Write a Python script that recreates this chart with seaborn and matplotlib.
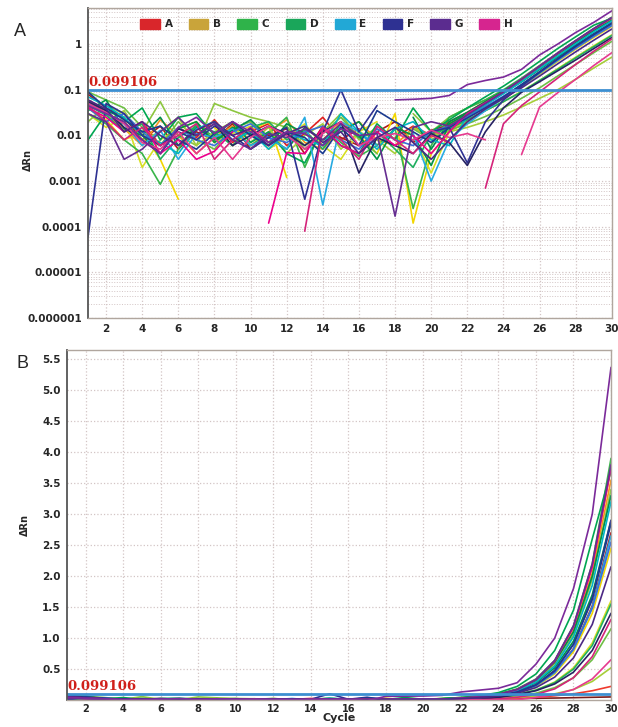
import numpy as np
import pandas as pd
import seaborn as sns
import matplotlib.pyplot as plt
from matplotlib.patches import Patch

# qPCR amplification data, delta Rn per cycle (negative = below baseline, gap on log plot)
cycles = list(range(1, 31))
threshold = 0.099106

a1 = [0.060, 0.035, 0.012, 0.020, 0.006, 0.015, 0.009, 0.022, 0.007, 0.012, 0.018, 0.006, 0.011, 0.025, 0.008,
      0.014, -0.002, 0.009, 0.016, 0.010, 0.020, 0.032, 0.055, 0.095, 0.17, 0.33, 0.63, 1.18, 2.15, 3.75]
a2 = [0.080, 0.040, 0.025, 0.008, 0.016, 0.005, 0.012, 0.008, 0.018, 0.005, 0.010, 0.014, 0.004, 0.016, 0.009,
      0.006, 0.012, 0.020, 0.007, 0.013, 0.017, 0.026, 0.042, 0.070, 0.12, 0.23, 0.44, 0.83, 1.52, 2.70]
b1 = [0.040, 0.022, 0.008, 0.012, 0.003, 0.0004, -0.001, 0.015, 0.006, 0.013, 0.020, 0.0012, -0.002, 0.008, 0.020,
      0.010, 0.004, 0.030, 0.00012, 0.004, 0.012, 0.020, 0.036, 0.065, 0.12, 0.22, 0.42, 0.78, 1.40, 2.45]
b2 = [0.050, 0.030, 0.014, 0.006, 0.022, 0.010, 0.004, 0.009, 0.016, 0.006, 0.012, 0.022, 0.007, 0.005, 0.014,
      0.020, 0.008, 0.006, 0.015, 0.009, 0.018, 0.028, 0.048, 0.085, 0.16, 0.31, 0.60, 1.12, 2.05, 3.55]
b3 = [0.030, 0.015, 0.025, 0.002, 0.008, 0.014, 0.020, 0.007, 0.011, 0.016, 0.005, 0.009, 0.018, 0.006, 0.003,
      0.012, 0.020, -0.001, 0.010, 0.0015, 0.012, 0.022, 0.035, 0.055, 0.092, 0.16, 0.29, 0.52, 0.92, 1.60]
c1 = [0.020, 0.045, 0.030, 0.012, 0.055, 0.010, 0.006, 0.050, 0.035, 0.025, 0.020, 0.015, 0.006, 0.012, 0.030,
      0.008, 0.015, -0.001, 0.030, 0.012, 0.025, 0.040, 0.060, 0.090, 0.15, 0.29, 0.56, 1.05, 1.95, 3.40]
c2 = [0.030, 0.018, 0.008, 0.004, 0.00085, 0.005, 0.018, 0.009, 0.014, 0.006, 0.011, 0.025, 0.002, 0.016, 0.007,
      0.0035, 0.006, 0.014, 0.00025, 0.006, 0.025, 0.040, 0.060, 0.10, 0.18, 0.34, 0.64, 1.20, 2.20, 3.90]
c3 = [0.090, 0.060, 0.040, 0.015, 0.006, 0.020, 0.008, 0.005, 0.014, 0.020, 0.007, 0.016, 0.005, 0.011, 0.025,
      0.009, 0.004, -0.001, 0.014, 0.008, 0.013, 0.018, 0.026, 0.040, 0.065, 0.11, 0.20, 0.36, 0.65, 1.15]
c4 = [0.040, 0.020, 0.035, 0.008, 0.012, 0.025, 0.006, 0.012, 0.020, 0.007, 0.015, 0.004, 0.010, 0.018, 0.005,
      0.012, 0.008, 0.004, 0.015, 0.010, 0.012, 0.015, 0.020, 0.028, 0.042, 0.065, 0.10, 0.17, 0.30, 0.52]
d1 = [0.008, 0.030, 0.020, 0.040, 0.008, 0.025, 0.030, 0.010, 0.020, 0.007, 0.012, 0.004, 0.0025, 0.014, 0.006,
      0.004, 0.018, 0.008, 0.040, 0.012, 0.022, 0.040, 0.070, 0.12, 0.22, 0.42, 0.80, 1.45, 2.60, 3.70]
d2 = [0.050, 0.035, 0.024, 0.010, 0.025, 0.006, 0.015, 0.008, 0.013, 0.022, 0.009, 0.005, 0.015, 0.008, 0.012,
      0.020, 0.006, -0.002, 0.025, 0.005, 0.020, 0.032, 0.055, 0.095, 0.17, 0.32, 0.61, 1.10, 2.00, 3.30]
d3 = [0.045, 0.028, 0.012, 0.018, 0.003, 0.009, 0.016, 0.012, 0.006, 0.015, 0.020, 0.008, 0.013, 0.005, 0.018,
      0.009, 0.012, 0.005, 0.002, 0.011, 0.014, 0.022, 0.035, 0.055, 0.090, 0.16, 0.28, 0.50, 0.88, 1.55]
d4 = [0.035, 0.060, 0.014, 0.010, 0.004, 0.014, 0.020, 0.007, 0.015, 0.011, 0.006, 0.018, 0.011, 0.006, 0.015,
      0.010, 0.003, 0.015, 0.010, 0.0022, 0.018, 0.030, 0.050, 0.085, 0.15, 0.28, 0.52, 0.95, 1.70, 2.90]
e1 = [0.050, 0.030, 0.018, 0.006, 0.013, 0.003, 0.011, 0.009, 0.014, 0.006, 0.009, 0.005, 0.025, 0.0003, 0.020,
      0.012, 0.006, -0.001, 0.011, 0.0010, 0.008, 0.018, 0.035, 0.065, 0.12, 0.23, 0.44, 0.82, 1.50, 2.65]
e2 = [0.070, 0.045, 0.025, 0.010, 0.007, 0.004, 0.014, 0.020, 0.008, 0.012, 0.005, 0.012, 0.008, 0.006, 0.030,
      0.012, 0.005, 0.014, 0.020, 0.008, 0.006, 0.026, 0.046, 0.082, 0.15, 0.29, 0.55, 1.02, 1.85, 3.20]
e3 = [0.040, 0.020, 0.030, 0.012, 0.006, 0.015, 0.008, 0.006, 0.012, 0.018, 0.009, 0.007, 0.012, 0.016, 0.008,
      0.005, 0.014, 0.008, 0.006, 0.012, 0.016, 0.025, 0.042, 0.072, 0.13, 0.24, 0.45, 0.82, 1.48, 2.55]
f1 = [0.00006, 0.050, 0.030, 0.010, 0.006, 0.012, 0.008, 0.016, 0.010, 0.005, 0.009, 0.015, 0.0004, 0.012, 0.10,
      0.012, 0.045, -0.002, 0.008, 0.012, 0.015, 0.0025, 0.020, 0.060, 0.12, 0.24, 0.47, 0.90, 1.65, 2.90]
f2 = [0.090, 0.040, 0.022, 0.012, 0.016, 0.008, 0.005, 0.011, 0.020, 0.010, 0.006, 0.012, 0.009, 0.004, 0.015,
      0.006, 0.035, 0.020, 0.012, 0.007, 0.015, 0.024, 0.040, 0.070, 0.13, 0.25, 0.48, 0.90, 1.62, 2.85]
f3 = [0.055, 0.035, 0.015, 0.008, 0.004, 0.014, 0.010, 0.018, 0.006, 0.010, 0.016, 0.011, 0.006, 0.012, 0.020,
      0.0015, 0.009, 0.006, 0.004, 0.011, 0.007, 0.0022, 0.012, 0.040, 0.088, 0.15, 0.26, 0.45, 0.80, 1.40]
g1 = [0.045, 0.030, 0.020, 0.008, 0.004, 0.015, 0.025, 0.011, 0.020, 0.012, 0.007, 0.012, 0.011, 0.006, 0.014,
      0.010, -0.010, 0.060, 0.062, 0.065, 0.075, 0.13, 0.16, 0.19, 0.28, 0.58, 1.00, 1.80, 3.00, 5.37]
g2 = [0.030, 0.020, 0.003, 0.005, 0.012, 0.025, 0.010, 0.018, 0.008, 0.005, 0.011, 0.009, 0.014, 0.008, 0.018,
      0.010, 0.011, 0.00017, 0.015, 0.020, 0.016, 0.028, 0.050, 0.090, 0.17, 0.33, 0.64, 1.20, 2.20, 3.80]
g3 = [0.060, 0.038, 0.012, 0.020, 0.010, 0.006, 0.013, 0.020, 0.010, 0.014, 0.006, 0.011, 0.016, 0.007, 0.012,
      0.004, 0.009, 0.015, 0.007, 0.003, 0.008, 0.020, 0.038, 0.065, 0.11, 0.20, 0.37, 0.68, 1.22, 2.15]
h1 = [0.040, 0.025, 0.012, 0.020, 0.004, 0.008, 0.003, 0.0045, 0.012, -0.002, 0.00012, 0.0042, 0.0040, 0.015, 0.006,
      0.004, 0.012, 0.006, 0.010, 0.004, 0.012, 0.030, 0.052, 0.090, 0.17, 0.33, 0.63, 1.18, 2.15, 3.75]
h2 = [0.045, 0.020, 0.008, 0.015, 0.006, 0.010, 0.018, 0.003, 0.008, 0.015, 0.007, -0.002, 0.00008, 0.015, 0.008,
      0.0030, 0.016, 0.008, 0.004, 0.010, 0.007, -0.001, 0.0007, 0.018, 0.045, 0.090, 0.18, 0.36, 0.70, 1.30]
h3 = [0.050, 0.032, 0.018, 0.007, 0.005, 0.012, 0.004, 0.009, 0.003, 0.009, 0.016, 0.010, 0.005, 0.011, 0.020,
      0.006, 0.009, 0.011, 0.008, 0.013, 0.009, 0.011, 0.008, -0.001, 0.0038, 0.042, 0.086, 0.17, 0.34, 0.65]
# wells that only show in panel B (non-amplifying / very late)
a3 = [0.030, 0.020, 0.012, 0.008, 0.010, 0.007, 0.009, 0.011, 0.006, 0.008, 0.010, 0.007, 0.009, 0.006, 0.008,
      0.010, 0.007, 0.009, 0.008, 0.010, 0.012, 0.014, 0.017, 0.020, 0.024, 0.028, 0.032, 0.038, 0.044, 0.050]
a4 = [0.050, 0.028, 0.016, 0.010, 0.013, 0.008, 0.010, 0.007, 0.012, 0.009, 0.011, 0.008, 0.010, 0.012, 0.009,
      0.007, 0.011, 0.010, 0.008, 0.011, 0.013, 0.015, 0.018, 0.022, 0.030, 0.045, 0.068, 0.10, 0.15, 0.22]

curves_a = {'A1': a1, 'A2': a2, 'B1': b1, 'B2': b2, 'B3': b3,
            'C1': c1, 'C2': c2, 'C3': c3, 'C4': c4, 'D1': d1, 'D2': d2, 'D3': d3, 'D4': d4,
            'E1': e1, 'E2': e2, 'E3': e3, 'F1': f1, 'F2': f2, 'F3': f3,
            'H1': h1, 'H2': h2, 'H3': h3, 'G2': g2, 'G3': g3, 'G1': g1}
curves_b = {'A3': a3, 'A4': a4, **curves_a}

curve_colors = {'A1': '#e02020', 'A2': '#b0181a', 'A3': '#7a1c1c', 'A4': '#ef3a2d',
                'B1': '#f2d600', 'B2': '#f7941d', 'B3': '#d7df23',
                'C1': '#8dc63f', 'C2': '#39b54a', 'C3': '#6dbf45', 'C4': '#a6ce39',
                'D1': '#00a651', 'D2': '#008d4c', 'D3': '#1fae5f', 'D4': '#009444',
                'E1': '#27aae1', 'E2': '#00b4c5', 'E3': '#3a6fd8',
                'F1': '#2e3192', 'F2': '#1b3b8f', 'F3': '#262262',
                'G1': '#7b2a9a', 'G2': '#662d91', 'G3': '#4b2884',
                'H1': '#ec008c', 'H2': '#d4237a', 'H3': '#e6398f'}

legend_labels = ['A', 'B', 'C', 'D', 'E', 'F', 'G', 'H']
legend_colors = ['#d9262b', '#c9a43a', '#2fb34a', '#1aa65a', '#22a8d6', '#2e3192', '#5b2c8f', '#d6258f']


def to_long(curves):
    rows = []
    for name, vals in curves.items():
        seg = 0
        for c, v in zip(cycles, vals):
            if v <= 0:
                seg += 1
            rows.append({'curve': name, 'cycle': c, 'value': v, 'seg': f'{name}_{seg}'})
    return pd.DataFrame(rows)


df_a = to_long(curves_a)
df_log = df_a[df_a['value'] > 0]
df_b = to_long(curves_b)

sns.set_style("white")
plt.rcParams['font.family'] = ['DejaVu Sans']

fig = plt.figure(figsize=(6.18, 7.27), dpi=100)
axA = fig.add_axes([0.1424, 0.5626, 0.8476, 0.4264])
axB = fig.add_axes([0.1084, 0.0371, 0.8803, 0.4815])

grid_col = '#d3c5c5'
thr_col = '#3d8fd1'
lab_col = '#d0201a'

# panel A, log scale
axA.set_yscale('log')
sns.lineplot(data=df_log, x='cycle', y='value', hue='curve', units='seg', estimator=None,
             palette=curve_colors, linewidth=1.2, legend=False, ax=axA, sort=False)
axA.axhline(threshold, color=thr_col, lw=2)
axA.text(1.02, threshold * 1.03, '0.099106', color=lab_col, fontsize=9.5, fontweight='bold',
         family='DejaVu Serif', va='bottom', ha='left')
axA.set_xlim(1, 30)
axA.set_ylim(1e-6, 6.2)
axA.set_xticks(range(2, 31, 2))
axA.set_yticks([1e-6, 1e-5, 1e-4, 1e-3, 1e-2, 0.1, 1],
               ['0.000001', '0.00001', '0.0001', '0.001', '0.01', '0.1', '1'])
axA.grid(which='major', ls=':', color=grid_col, lw=0.9)
axA.grid(which='minor', axis='y', ls=':', color=grid_col, lw=0.7)
axA.tick_params(which='minor', length=0)
axA.set_xlabel('')
axA.set_ylabel('ΔRn', fontsize=7, fontweight='bold')
axA.yaxis.set_label_coords(-0.105, 0.51)
handles = [Patch(facecolor=c, edgecolor=c) for c in legend_colors]
axA.legend(handles, legend_labels, ncol=8, loc='upper center', bbox_to_anchor=(0.455, 0.995),
           frameon=False, handlelength=1.9, handleheight=1.05, handletextpad=0.45, columnspacing=1.55,
           prop={'size': 7.5, 'weight': 'bold'})

# panel B, linear scale
sns.lineplot(data=df_b, x='cycle', y='value', hue='curve', units='curve', estimator=None,
             palette=curve_colors, linewidth=1.2, legend=False, ax=axB, sort=False)
axB.axhline(threshold, color=thr_col, lw=2)
axB.text(1.02, threshold + 0.01, '0.099106', color=lab_col, fontsize=9.5, fontweight='bold',
         family='DejaVu Serif', va='bottom', ha='left')
axB.set_xlim(1, 30)
axB.set_ylim(0, 5.65)
axB.set_xticks(range(2, 31, 2))
axB.set_yticks([0.5, 1.0, 1.5, 2.0, 2.5, 3.0, 3.5, 4.0, 4.5, 5.0, 5.5])
axB.yaxis.set_major_formatter(plt.FormatStrFormatter('%.1f'))
axB.grid(which='major', ls=':', color=grid_col, lw=0.9)
axB.set_xlabel('Cycle', fontsize=8, fontweight='bold')
axB.xaxis.set_label_coords(0.5, -0.038)
axB.set_ylabel('ΔRn', fontsize=7, fontweight='bold')
axB.yaxis.set_label_coords(-0.068, 0.5)

for ax in (axA, axB):
    ax.tick_params(which='major', labelsize=7.5, length=2.5, width=0.8, pad=2, color='#777777')
    for lbl in ax.get_xticklabels() + ax.get_yticklabels():
        lbl.set_fontweight('bold')
    for side in ('top', 'right', 'bottom'):
        ax.spines[side].set_color('#b0a69e')
        ax.spines[side].set_linewidth(1.0)
    ax.spines['left'].set_color('#555555')
    ax.spines['left'].set_linewidth(1.3)
axB.tick_params(axis='x', which='major', length=2, pad=1, labelsize=7)

fig.text(20 / 618, 1 - 31 / 727, 'A', fontsize=13, ha='center', va='center', family='Liberation Sans')
fig.text(23 / 618, 1 - 363 / 727, 'B', fontsize=13, ha='center', va='center', family='Liberation Sans')

plt.savefig('out.png', dpi=100)
plt.close()
